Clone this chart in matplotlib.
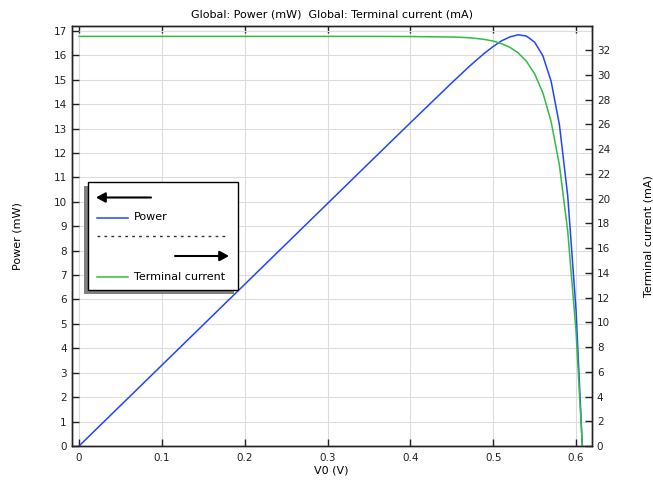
import matplotlib
matplotlib.use('Agg')
import matplotlib.pyplot as plt
from matplotlib.patches import Rectangle, FancyArrowPatch
from matplotlib.lines import Line2D

# Colores
COLOR_POWER = '#2244ff'
COLOR_CURRENT = '#33bb44'
COLOR_REJILLA = '#dcdcdc'
COLOR_EJES = '#222222'
COLOR_SOMBRA = '#808080'

# Datos
voltage = [0.0, 0.05, 0.10, 0.15, 0.20, 0.25, 0.30, 0.35, 0.40, 0.45,
           0.46, 0.47, 0.48, 0.49, 0.50, 0.51, 0.52, 0.53, 0.54, 0.55,
           0.56, 0.57, 0.58, 0.59, 0.60, 0.61]
current_ma = [33.1, 33.1, 33.1, 33.1, 33.1, 33.1, 33.1, 33.1, 33.09, 33.05,
              33.03, 32.99, 32.93, 32.85, 32.72, 32.52, 32.22, 31.78, 31.10, 30.08,
              28.54, 26.20, 22.68, 17.35, 9.30, -2.85]
power_mw = [0.0, 1.655, 3.31, 4.965, 6.62, 8.275, 9.93, 11.585, 13.236, 14.873,
            15.19, 15.51, 15.81, 16.10, 16.36, 16.59, 16.75, 16.84, 16.79, 16.54,
            15.98, 14.93, 13.15, 10.24, 5.58, -1.74]

x_ticks = [0, 0.1, 0.2, 0.3, 0.4, 0.5, 0.6]
x_tick_labels = ['0', '0.1', '0.2', '0.3', '0.4', '0.5', '0.6']
power_ticks = list(range(0, 18))
current_ticks = list(range(0, 33, 2))

W, H = 653, 480


def fx(x):
    return x / W


def fy(y):
    return 1 - y / H


fig = plt.figure(figsize=(W / 100, H / 100), dpi=100)
ax = fig.add_axes([fx(71.5), fy(446), fx(592) - fx(71.5), fy(26) - fy(446)])
ax2 = ax.twinx()

ax.plot(voltage, power_mw, color=COLOR_POWER, linewidth=1.1)
ax2.plot(voltage, current_ma, color=COLOR_CURRENT, linewidth=1.1)

ax.set_xlim(-0.0091, 0.6193)
ax.set_ylim(0, 17.2)
ax2.set_ylim(0, 33.94)

ax.set_xticks(x_ticks)
ax.set_xticklabels(x_tick_labels)
ax.set_yticks(power_ticks)
ax2.set_yticks(current_ticks)

ax.grid(True, color=COLOR_REJILLA, linewidth=0.8)
ax.set_axisbelow(True)

ax.tick_params(axis='both', direction='in', length=5, width=1, labelsize=7.5,
               colors=COLOR_EJES, top=True)
ax.tick_params(axis='x', pad=5)
ax2.tick_params(axis='y', direction='in', length=5, width=1, labelsize=7.5,
                colors=COLOR_EJES)

for a in (ax, ax2):
    for s in a.spines.values():
        s.set_color(COLOR_EJES)
        s.set_linewidth(1)

ax.set_xlabel('V0 (V)', fontsize=8, labelpad=2)
ax.set_ylabel('Power (mW)', fontsize=8, labelpad=22)
ax2.set_ylabel('Terminal current (mA)', fontsize=8, labelpad=24)
ax.set_title('Global: Power (mW)  Global: Terminal current (mA)', fontsize=8, pad=6)

# Leyenda dibujada a mano (estilo COMSOL con flechas)
fig.add_artist(Rectangle((fx(84), fy(294)), fx(234) - fx(84), fy(186) - fy(294),
                         transform=fig.transFigure, facecolor=COLOR_SOMBRA,
                         edgecolor='none', zorder=5))
fig.add_artist(Rectangle((fx(88), fy(290)), fx(238) - fx(88), fy(182) - fy(290),
                         transform=fig.transFigure, facecolor='white',
                         edgecolor='black', linewidth=1, zorder=6))

estilo_flecha = '-|>,head_length=0.55,head_width=0.3'
fig.add_artist(FancyArrowPatch((fx(151), fy(197.5)), (fx(96), fy(197.5)),
                               transform=fig.transFigure, arrowstyle=estilo_flecha,
                               mutation_scale=10, color='black', lw=1.5,
                               shrinkA=0, shrinkB=0, zorder=7))
fig.add_artist(FancyArrowPatch((fx(175), fy(256)), (fx(229), fy(256)),
                               transform=fig.transFigure, arrowstyle=estilo_flecha,
                               mutation_scale=10, color='black', lw=1.5,
                               shrinkA=0, shrinkB=0, zorder=7))

fig.add_artist(Line2D([fx(97), fx(128)], [fy(217.5), fy(217.5)],
                      transform=fig.transFigure, color=COLOR_POWER, lw=1.1, zorder=7))
fig.text(fx(134), fy(217.5), 'Power', fontsize=8, va='center', ha='left', zorder=7)
fig.add_artist(Line2D([fx(97), fx(228)], [fy(236), fy(236)],
                      transform=fig.transFigure, color='#333333', lw=1,
                      linestyle=(0, (2, 3)), zorder=7))
fig.add_artist(Line2D([fx(97), fx(128)], [fy(276.5), fy(276.5)],
                      transform=fig.transFigure, color=COLOR_CURRENT, lw=1.1, zorder=7))
fig.text(fx(134), fy(276.5), 'Terminal current', fontsize=8, va='center', ha='left', zorder=7)

fig.savefig('out.png', dpi=100)
